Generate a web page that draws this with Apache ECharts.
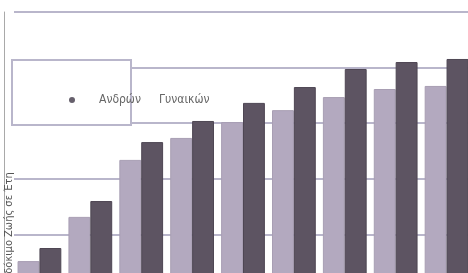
<!DOCTYPE html>
<html>
<head>
<meta charset="utf-8">
<script src="https://cdn.jsdelivr.net/npm/echarts@6/dist/echarts.min.js"></script>
<style>
html,body{margin:0;padding:0;background:#fff;overflow:hidden;width:468px;height:273px;}
#chart{width:472px;height:290px;}
</style>
</head>
<body>
<div id="chart"></div>
<script>
// κατηγορίες (οι ετικέτες δεν φαίνονται στην εικόνα)
var categories = ['1','2','3','4','5','6','7','8','9'];
// προσδόκιμο ζωής σε έτη
var andron = [10.4, 26.3, 46.8, 54.7, 60.4, 64.7, 69.4, 72.3, 73.4];
var gynaikon = [15.1, 32.0, 53.2, 60.8, 67.3, 73.0, 79.5, 82.0, 83.1];
var yTicks = {min: 0, max: 100, interval: 20};

var chart = echarts.init(document.getElementById('chart'));
var gridColor = '#b9b6cb';
var fontFam = '"DejaVu Sans Condensed", "DejaVu Sans", sans-serif';

chart.setOption({
	animation: false,
	backgroundColor: '#fff',
	grid: {left: 14, right: 0, top: 12, bottom: 0},
	legend: [{
		data: [{name: 'Ανδρών', itemStyle: {color: '#66606c', borderWidth: 0}}],
		left: 64, top: 89,
		icon: 'circle', itemWidth: 6, itemHeight: 6,
		textStyle: {color: '#666', fontSize: 12, fontFamily: fontFam, padding: [0, 0, 0, 19]}
	},{
		data: [{name: 'Γυναικών', itemStyle: {opacity: 0}}],
		left: 142, top: 89,
		icon: 'circle', itemWidth: 6, itemHeight: 6,
		textStyle: {color: '#666', fontSize: 12, fontFamily: fontFam}
	}],
	xAxis: {
		type: 'category',
		data: categories,
		axisLine: {show: false},
		axisTick: {show: false},
		axisLabel: {show: false}
	},
	yAxis: {
		type: 'value',
		min: yTicks.min, max: yTicks.max, interval: yTicks.interval,
		offset: 10,
		axisLine: {show: true, lineStyle: {color: '#a9a9a9', width: 1}},
		axisTick: {show: false},
		axisLabel: {show: false},
		splitLine: {lineStyle: {color: gridColor, width: 2}}
	},
	graphic: [{
		type: 'rect',
		shape: {x: 12, y: 60, width: 119, height: 65},
		style: {fill: '#fff', stroke: gridColor, lineWidth: 2},
		z: 1
	},{
		type: 'text',
		x: 9, y: 236,
		rotation: Math.PI / 2,
		style: {
			text: 'Προσδόκιμο Ζωής σε Έτη',
			fill: '#555',
			font: '11px ' + fontFam,
			align: 'center',
			verticalAlign: 'middle'
		},
		z: 5
	}],
	series: [{
		name: 'Ανδρών',
		type: 'bar',
		data: andron,
		barWidth: '43%',
		barGap: '0%',
		itemStyle: {color: '#b3a9bf', borderColor: '#a89eb3', borderWidth: 1}
	},{
		name: 'Γυναικών',
		type: 'bar',
		data: gynaikon,
		barWidth: '43%',
		itemStyle: {color: '#5d5462', borderColor: '#4e4653', borderWidth: 1}
	}]
});
</script>
</body>
</html>
